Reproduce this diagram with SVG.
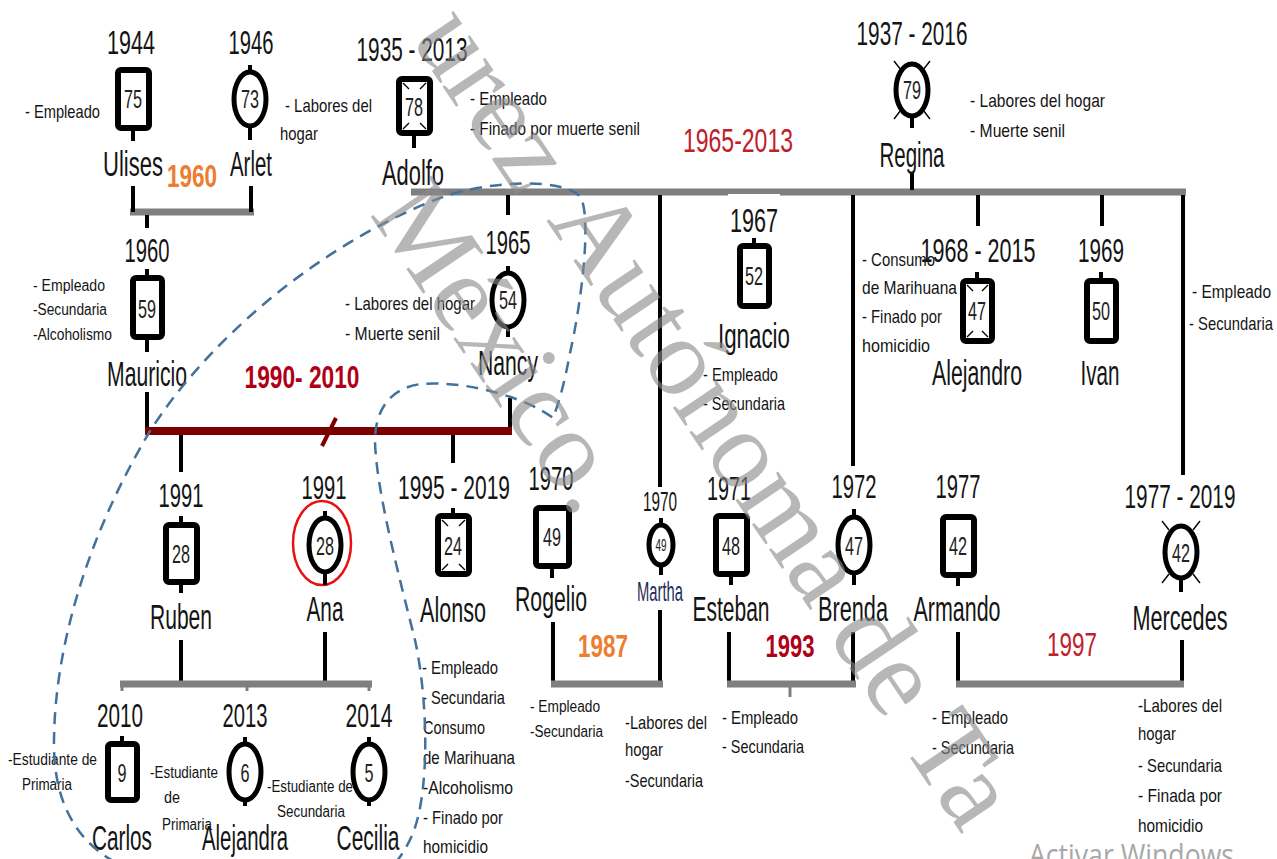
<svg xmlns="http://www.w3.org/2000/svg" width="1277" height="859" viewBox="0 0 1277 859">
<style>
text{font-family:"Liberation Sans Narrow","Liberation Sans",Arial,sans-serif;fill:#141414}
.y{font-size:34px;text-anchor:middle}
.n{font-size:35px;text-anchor:middle}
.a{font-size:25px;text-anchor:middle;fill:#222}
.s{font-size:19px}
.m{font-size:16px}
.or{font-size:31px;font-weight:bold;fill:#ED7D31;text-anchor:middle}
.rd{font-size:33px;fill:#C0202A;text-anchor:middle}
.rb{font-size:32px;font-weight:bold;fill:#B00016;text-anchor:middle}
.sq{fill:#fff;stroke:#000;stroke-width:6}
.ci{fill:#fff;stroke:#000;stroke-width:5}
.ln{stroke:#000;stroke-width:4;fill:none}
.bar{stroke:#7f7f7f;stroke-width:7;fill:none}
.tk{stroke:#7f7f7f;stroke-width:3}
.dm{stroke:#000;stroke-width:1.4}
.hh{fill:none;stroke:#41719C;stroke-width:2.5;stroke-dasharray:12 8}
.wm{font-family:"Liberation Serif",serif;font-size:112px;fill:#8a8a8a;fill-opacity:0.62}
.aw{font-family:"Open Sans","Liberation Sans",sans-serif;font-size:31px;fill:#a8a8a8}
</style>

<g id="connectors">
  <line class="bar" x1="130" y1="212" x2="254" y2="212"/>
  <line class="ln" x1="133" y1="186" x2="133" y2="212"/>
  <line class="ln" x1="251" y1="186" x2="251" y2="212"/>
  <line class="ln" x1="147" y1="215" x2="147" y2="228"/>
  <line class="bar" x1="411" y1="192" x2="1186" y2="192"/>
  <rect x="728" y="194" width="52" height="4" fill="#fff"/>
  <line class="ln" x1="912" y1="172" x2="912" y2="190"/>
  <line class="ln" x1="508" y1="195" x2="508" y2="215"/>
  <line class="ln" x1="660" y1="195" x2="660" y2="487"/>
  <line class="ln" x1="853" y1="195" x2="853" y2="466"/>
  <line class="ln" x1="978" y1="195" x2="978" y2="226"/>
  <line class="ln" x1="1102" y1="195" x2="1102" y2="226"/>
  <line class="ln" x1="1183" y1="195" x2="1183" y2="475"/>
  <line class="ln" x1="147" y1="392" x2="147" y2="431"/>
  <line class="ln" x1="510" y1="398" x2="510" y2="431"/>
  <line x1="145" y1="431" x2="512" y2="431" stroke="#7B0000" stroke-width="8"/>
  <line x1="322" y1="446" x2="336" y2="418" stroke="#7B0000" stroke-width="4"/>
  <line class="ln" x1="181" y1="435" x2="181" y2="472"/>
  <line class="ln" x1="453" y1="435" x2="453" y2="463"/>
  <line class="ln" x1="181" y1="640" x2="181" y2="681"/>
  <line class="ln" x1="325" y1="632" x2="325" y2="681"/>
  <line class="bar" x1="120" y1="684" x2="372" y2="684"/>
  <line class="tk" x1="122" y1="686" x2="122" y2="691"/>
  <line class="tk" x1="247" y1="686" x2="247" y2="691"/>
  <line class="tk" x1="369" y1="686" x2="369" y2="691"/>
  <line class="ln" x1="553" y1="622" x2="553" y2="682"/>
  <line class="ln" x1="660" y1="610" x2="660" y2="682"/>
  <line class="bar" x1="551" y1="684" x2="663" y2="684"/>
  <line class="ln" x1="729" y1="632" x2="729" y2="682"/>
  <line class="ln" x1="853" y1="632" x2="853" y2="682"/>
  <line class="bar" x1="727" y1="684" x2="856" y2="684"/>
  <line class="tk" x1="790" y1="687" x2="790" y2="697"/>
  <line class="ln" x1="958" y1="632" x2="958" y2="682"/>
  <line class="ln" x1="1182" y1="640" x2="1182" y2="682"/>
  <line class="bar" x1="956" y1="684" x2="1184" y2="684"/>
</g>

<g id="labels-union">
  <text class="or" x="192" y="187" textLength="50" lengthAdjust="spacingAndGlyphs">1960</text>
  <text class="rd" x="738" y="152" textLength="110" lengthAdjust="spacingAndGlyphs">1965-2013</text>
  <text class="rb" x="302" y="388" textLength="115" lengthAdjust="spacingAndGlyphs">1990- 2010</text>
  <text class="or" x="603" y="657" textLength="50" lengthAdjust="spacingAndGlyphs">1987</text>
  <text class="rb" x="790" y="657" textLength="49" lengthAdjust="spacingAndGlyphs">1993</text>
  <text class="rd" x="1072" y="656" textLength="50" lengthAdjust="spacingAndGlyphs">1997</text>
</g>

<g id="ulises">
  <text class="y" x="131" y="54" textLength="48" lengthAdjust="spacingAndGlyphs">1944</text>
  <rect class="sq" x="118" y="70" width="31" height="58" rx="3"/>
  <line class="ln" x1="133" y1="131" x2="133" y2="141"/>
  <text class="a" x="133" y="108" textLength="18" lengthAdjust="spacingAndGlyphs">75</text>
  <text class="s" x="25" y="118" textLength="75" lengthAdjust="spacingAndGlyphs">- Empleado</text>
  <text class="n" x="133" y="176" textLength="60" lengthAdjust="spacingAndGlyphs">Ulises</text>
</g>

<g id="arlet">
  <text class="y" x="251" y="54" textLength="45" lengthAdjust="spacingAndGlyphs">1946</text>
  <line class="ln" x1="250" y1="65" x2="250" y2="73"/>
  <ellipse class="ci" cx="250" cy="99" rx="16" ry="27"/>
  <line class="ln" x1="250" y1="126" x2="250" y2="140"/>
  <text class="a" x="250" y="108" textLength="18" lengthAdjust="spacingAndGlyphs">73</text>
  <text class="s" x="285" y="112" textLength="87" lengthAdjust="spacingAndGlyphs">- Labores  del</text>
  <text class="s" x="280" y="140" textLength="38" lengthAdjust="spacingAndGlyphs">hogar</text>
  <text class="n" x="251" y="176" textLength="42" lengthAdjust="spacingAndGlyphs">Arlet</text>
</g>

<g id="adolfo">
  <text class="y" x="412" y="61" textLength="111" lengthAdjust="spacingAndGlyphs">1935 - 2013</text>
  <rect class="sq" x="399" y="79" width="31" height="54" rx="3"/>
  <path class="dm" d="M403 83l6 6M426 83l-6 6M403 129l6-6M426 129l-6-6"/>
  <line class="ln" x1="414" y1="136" x2="414" y2="148"/>
  <text class="a" x="414" y="116" textLength="18" lengthAdjust="spacingAndGlyphs">78</text>
  <text class="s" x="470" y="105" textLength="77" lengthAdjust="spacingAndGlyphs">- Empleado</text>
  <text class="s" x="470" y="135" textLength="170" lengthAdjust="spacingAndGlyphs">- Finado por muerte senil</text>
  <text class="n" x="413" y="185" textLength="62" lengthAdjust="spacingAndGlyphs">Adolfo</text>
</g>

<g id="regina">
  <text class="y" x="912" y="45" textLength="111" lengthAdjust="spacingAndGlyphs">1937 - 2016</text>
  <ellipse class="ci" cx="912" cy="90" rx="16" ry="26"/>
  <path class="dm" d="M894 61l7 9M930 61l-7 9M894 119l7-9M930 119l-7-9"/>
  <line class="ln" x1="912" y1="116" x2="912" y2="128"/>
  <text class="a" x="912" y="99" textLength="18" lengthAdjust="spacingAndGlyphs">79</text>
  <text class="s" x="970" y="107" textLength="135" lengthAdjust="spacingAndGlyphs">- Labores del hogar</text>
  <text class="s" x="970" y="137" textLength="95" lengthAdjust="spacingAndGlyphs">- Muerte senil</text>
  <text class="n" x="912" y="167" textLength="65" lengthAdjust="spacingAndGlyphs">Regina</text>
</g>

<g id="mauricio">
  <text class="y" x="147" y="262" textLength="45" lengthAdjust="spacingAndGlyphs">1960</text>
  <line class="ln" x1="147" y1="269" x2="147" y2="277"/>
  <rect class="sq" x="133" y="278" width="29" height="59" rx="3"/>
  <line class="ln" x1="147" y1="340" x2="147" y2="352"/>
  <text class="a" x="147" y="318" textLength="18" lengthAdjust="spacingAndGlyphs">59</text>
  <text class="m" x="33" y="291" textLength="72" lengthAdjust="spacingAndGlyphs">- Empleado</text>
  <text class="m" x="33" y="315" textLength="74" lengthAdjust="spacingAndGlyphs">-Secundaria</text>
  <text class="m" x="33" y="340" textLength="79" lengthAdjust="spacingAndGlyphs">-Alcoholismo</text>
  <text class="n" x="147" y="386" textLength="80" lengthAdjust="spacingAndGlyphs">Mauricio</text>
</g>

<g id="nancy">
  <text class="y" x="508" y="254" textLength="45" lengthAdjust="spacingAndGlyphs">1965</text>
  <line class="ln" x1="508" y1="266" x2="508" y2="274"/>
  <ellipse class="ci" cx="508" cy="300" rx="16" ry="27"/>
  <line class="ln" x1="508" y1="327" x2="508" y2="337"/>
  <text class="a" x="508" y="309" textLength="18" lengthAdjust="spacingAndGlyphs">54</text>
  <text class="s" x="345" y="310" textLength="130" lengthAdjust="spacingAndGlyphs">- Labores del hogar</text>
  <text class="s" x="345" y="340" textLength="95" lengthAdjust="spacingAndGlyphs">- Muerte senil</text>
  <text class="n" x="508" y="375" textLength="60" lengthAdjust="spacingAndGlyphs">Nancy</text>
</g>

<g id="ignacio">
  <text class="y" x="754" y="232" textLength="48" lengthAdjust="spacingAndGlyphs">1967</text>
  <line class="ln" x1="754" y1="238" x2="754" y2="245"/>
  <rect class="sq" x="740" y="246" width="29" height="60" rx="3"/>
  <text class="a" x="754" y="285" textLength="18" lengthAdjust="spacingAndGlyphs">52</text>
  <text class="n" x="754" y="348" textLength="72" lengthAdjust="spacingAndGlyphs">Ignacio</text>
  <text class="s" x="703" y="381" textLength="75" lengthAdjust="spacingAndGlyphs">- Empleado</text>
  <text class="s" x="703" y="410" textLength="82" lengthAdjust="spacingAndGlyphs">- Secundaria</text>
</g>

<g id="alejandro">
  <text class="y" x="978" y="262" textLength="115" lengthAdjust="spacingAndGlyphs">1968 - 2015</text>
  <line class="ln" x1="977" y1="272" x2="977" y2="280"/>
  <rect class="sq" x="963" y="281" width="29" height="60" rx="3"/>
  <path class="dm" d="M967 285l6 6M988 285l-6 6M967 337l6-6M988 337l-6-6"/>
  <text class="a" x="977" y="320" textLength="18" lengthAdjust="spacingAndGlyphs">47</text>
  <text class="s" x="862" y="266" textLength="73" lengthAdjust="spacingAndGlyphs">- Consumo</text>
  <text class="s" x="862" y="294" textLength="95" lengthAdjust="spacingAndGlyphs">de Marihuana</text>
  <text class="s" x="862" y="323" textLength="80" lengthAdjust="spacingAndGlyphs">- Finado por</text>
  <text class="s" x="862" y="352" textLength="68" lengthAdjust="spacingAndGlyphs">homicidio</text>
  <text class="n" x="977" y="385" textLength="90" lengthAdjust="spacingAndGlyphs">Alejandro</text>
</g>

<g id="ivan">
  <text class="y" x="1101" y="262" textLength="46" lengthAdjust="spacingAndGlyphs">1969</text>
  <line class="ln" x1="1101" y1="272" x2="1101" y2="280"/>
  <rect class="sq" x="1087" y="281" width="29" height="60" rx="3"/>
  <text class="a" x="1101" y="320" textLength="18" lengthAdjust="spacingAndGlyphs">50</text>
  <text class="n" x="1100" y="385" textLength="39" lengthAdjust="spacingAndGlyphs">Ivan</text>
  <text class="s" x="1192" y="298" textLength="79" lengthAdjust="spacingAndGlyphs">- Empleado</text>
  <text class="s" x="1189" y="330" textLength="84" lengthAdjust="spacingAndGlyphs">- Secundaria</text>
</g>

<g id="ruben">
  <text class="y" x="181" y="507" textLength="45" lengthAdjust="spacingAndGlyphs">1991</text>
  <line class="ln" x1="181" y1="516" x2="181" y2="524"/>
  <rect class="sq" x="166" y="525" width="31" height="57" rx="3"/>
  <line class="ln" x1="181" y1="585" x2="181" y2="593"/>
  <text class="a" x="181" y="563" textLength="18" lengthAdjust="spacingAndGlyphs">28</text>
  <text class="n" x="181" y="629" textLength="62" lengthAdjust="spacingAndGlyphs">Ruben</text>
</g>

<g id="ana">
  <text class="y" x="324" y="499" textLength="45" lengthAdjust="spacingAndGlyphs">1991</text>
  <ellipse cx="322" cy="543" rx="29" ry="42" fill="none" stroke="#E81010" stroke-width="2.5"/>
  <line class="ln" x1="325" y1="511" x2="325" y2="519"/>
  <ellipse class="ci" cx="325" cy="545" rx="16" ry="27"/>
  <line class="ln" x1="325" y1="572" x2="325" y2="585"/>
  <text class="a" x="325" y="555" textLength="18" lengthAdjust="spacingAndGlyphs">28</text>
  <text class="n" x="325" y="621" textLength="37" lengthAdjust="spacingAndGlyphs">Ana</text>
</g>

<g id="carlos">
  <text class="y" x="120" y="727" textLength="46" lengthAdjust="spacingAndGlyphs">2010</text>
  <line class="ln" x1="122" y1="736" x2="122" y2="743"/>
  <rect class="sq" x="108" y="744" width="29" height="56" rx="3"/>
  <text class="a" x="122" y="782" textLength="9" lengthAdjust="spacingAndGlyphs">9</text>
  <text class="m" x="8" y="765" textLength="89" lengthAdjust="spacingAndGlyphs">-Estudiante de</text>
  <text class="m" x="22" y="790" textLength="50" lengthAdjust="spacingAndGlyphs">Primaria</text>
  <text class="n" x="122" y="850" textLength="60" lengthAdjust="spacingAndGlyphs">Carlos</text>
</g>

<g id="alejandra">
  <text class="y" x="245" y="727" textLength="45" lengthAdjust="spacingAndGlyphs">2013</text>
  <line class="ln" x1="245" y1="737" x2="245" y2="745"/>
  <ellipse class="ci" cx="245" cy="772" rx="16" ry="28"/>
  <line class="ln" x1="245" y1="800" x2="245" y2="806"/>
  <text class="a" x="245" y="782" textLength="9" lengthAdjust="spacingAndGlyphs">6</text>
  <text class="m" x="150" y="778" textLength="68" lengthAdjust="spacingAndGlyphs">-Estudiante</text>
  <text class="m" x="164" y="803" textLength="16" lengthAdjust="spacingAndGlyphs">de</text>
  <text class="m" x="162" y="830" textLength="50" lengthAdjust="spacingAndGlyphs">Primaria</text>
  <text class="n" x="245" y="850" textLength="86" lengthAdjust="spacingAndGlyphs">Alejandra</text>
</g>

<g id="cecilia">
  <text class="y" x="369" y="727" textLength="47" lengthAdjust="spacingAndGlyphs">2014</text>
  <line class="ln" x1="369" y1="737" x2="369" y2="745"/>
  <ellipse class="ci" cx="369" cy="772" rx="16" ry="28"/>
  <line class="ln" x1="369" y1="800" x2="369" y2="806"/>
  <text class="a" x="369" y="782" textLength="9" lengthAdjust="spacingAndGlyphs">5</text>
  <text class="m" x="267" y="792" textLength="86" lengthAdjust="spacingAndGlyphs">-Estudiante de</text>
  <text class="m" x="277" y="817" textLength="68" lengthAdjust="spacingAndGlyphs">Secundaria</text>
  <text class="n" x="368" y="850" textLength="63" lengthAdjust="spacingAndGlyphs">Cecilia</text>
</g>

<g id="alonso">
  <text class="y" x="454" y="499" textLength="112" lengthAdjust="spacingAndGlyphs">1995 - 2019</text>
  <line class="ln" x1="453" y1="508" x2="453" y2="515"/>
  <rect class="sq" x="438" y="516" width="31" height="58" rx="3"/>
  <path class="dm" d="M442 520l6 6M465 520l-6 6M442 570l6-6M465 570l-6-6"/>
  <text class="a" x="453" y="555" textLength="18" lengthAdjust="spacingAndGlyphs">24</text>
  <text class="n" x="453" y="622" textLength="66" lengthAdjust="spacingAndGlyphs">Alonso</text>
  <text class="s" x="422" y="674" textLength="76" lengthAdjust="spacingAndGlyphs">- Empleado</text>
  <text class="s" x="422" y="704" textLength="83" lengthAdjust="spacingAndGlyphs">- Secundaria</text>
  <text class="s" x="423" y="734" textLength="62" lengthAdjust="spacingAndGlyphs">Consumo</text>
  <text class="s" x="423" y="764" textLength="92" lengthAdjust="spacingAndGlyphs">de Marihuana</text>
  <text class="s" x="423" y="794" textLength="90" lengthAdjust="spacingAndGlyphs">-Alcoholismo</text>
  <text class="s" x="423" y="824" textLength="80" lengthAdjust="spacingAndGlyphs">- Finado por</text>
  <text class="s" x="423" y="853" textLength="65" lengthAdjust="spacingAndGlyphs">homicidio</text>
</g>

<g id="rogelio">
  <text class="y" x="551" y="490" textLength="45" lengthAdjust="spacingAndGlyphs">1970</text>
  <rect class="sq" x="536" y="508" width="33" height="58" rx="3"/>
  <line class="ln" x1="552" y1="569" x2="552" y2="578"/>
  <text class="a" x="552" y="546" textLength="18" lengthAdjust="spacingAndGlyphs">49</text>
  <text class="n" x="551" y="611" textLength="72" lengthAdjust="spacingAndGlyphs">Rogelio</text>
  <text class="m" x="530" y="712" textLength="70" lengthAdjust="spacingAndGlyphs">- Empleado</text>
  <text class="m" x="530" y="737" textLength="73" lengthAdjust="spacingAndGlyphs">-Secundaria</text>
</g>

<g id="martha">
  <text class="y" x="660" y="511" style="font-size:27px" textLength="34" lengthAdjust="spacingAndGlyphs">1970</text>
  <line class="ln" x1="661" y1="518" x2="661" y2="526"/>
  <ellipse class="ci" cx="661" cy="545" rx="12" ry="20"/>
  <line class="ln" x1="661" y1="565" x2="661" y2="575"/>
  <text class="a" x="661" y="551" style="font-size:16px" textLength="11" lengthAdjust="spacingAndGlyphs">49</text>
  <text class="n" x="660" y="601" style="font-size:28px;fill:#1F2D5A" textLength="46" lengthAdjust="spacingAndGlyphs">Martha</text>
  <text class="s" x="625" y="729" textLength="82" lengthAdjust="spacingAndGlyphs">-Labores del</text>
  <text class="s" x="625" y="756" textLength="38" lengthAdjust="spacingAndGlyphs">hogar</text>
  <text class="s" x="625" y="787" textLength="78" lengthAdjust="spacingAndGlyphs">-Secundaria</text>
</g>

<g id="esteban">
  <text class="y" x="729" y="500" textLength="44" lengthAdjust="spacingAndGlyphs">1971</text>
  <rect class="sq" x="716" y="516" width="31" height="58" rx="3"/>
  <line class="ln" x1="731" y1="577" x2="731" y2="585"/>
  <text class="a" x="731" y="555" textLength="18" lengthAdjust="spacingAndGlyphs">48</text>
  <text class="n" x="731" y="621" textLength="77" lengthAdjust="spacingAndGlyphs">Esteban</text>
  <text class="s" x="722" y="724" textLength="76" lengthAdjust="spacingAndGlyphs">- Empleado</text>
  <text class="s" x="722" y="753" textLength="82" lengthAdjust="spacingAndGlyphs">- Secundaria</text>
</g>

<g id="brenda">
  <text class="y" x="854" y="498" textLength="45" lengthAdjust="spacingAndGlyphs">1972</text>
  <line class="ln" x1="854" y1="509" x2="854" y2="518"/>
  <ellipse class="ci" cx="854" cy="545" rx="16" ry="28"/>
  <line class="ln" x1="854" y1="573" x2="854" y2="585"/>
  <text class="a" x="854" y="555" textLength="18" lengthAdjust="spacingAndGlyphs">47</text>
  <text class="n" x="853" y="621" textLength="70" lengthAdjust="spacingAndGlyphs">Brenda</text>
</g>

<g id="armando">
  <text class="y" x="958" y="498" textLength="45" lengthAdjust="spacingAndGlyphs">1977</text>
  <rect class="sq" x="943" y="517" width="31" height="58" rx="3"/>
  <line class="ln" x1="958" y1="578" x2="958" y2="586"/>
  <text class="a" x="958" y="555" textLength="18" lengthAdjust="spacingAndGlyphs">42</text>
  <text class="n" x="957" y="621" textLength="87" lengthAdjust="spacingAndGlyphs">Armando</text>
  <text class="s" x="932" y="724" textLength="76" lengthAdjust="spacingAndGlyphs">- Empleado</text>
  <text class="s" x="932" y="754" textLength="82" lengthAdjust="spacingAndGlyphs">- Secundaria</text>
</g>

<g id="mercedes">
  <text class="y" x="1180" y="508" textLength="111" lengthAdjust="spacingAndGlyphs">1977 - 2019</text>
  <ellipse class="ci" cx="1181" cy="552" rx="16" ry="26"/>
  <path class="dm" d="M1162 521l7 9M1200 521l-7 9M1162 583l7-9M1200 583l-7-9"/>
  <line class="ln" x1="1181" y1="578" x2="1181" y2="592"/>
  <text class="a" x="1181" y="562" textLength="18" lengthAdjust="spacingAndGlyphs">42</text>
  <text class="n" x="1180" y="630" textLength="95" lengthAdjust="spacingAndGlyphs">Mercedes</text>
  <text class="s" x="1138" y="712" textLength="84" lengthAdjust="spacingAndGlyphs">-Labores del</text>
  <text class="s" x="1138" y="740" textLength="38" lengthAdjust="spacingAndGlyphs">hogar</text>
  <text class="s" x="1138" y="772" textLength="84" lengthAdjust="spacingAndGlyphs">- Secundaria</text>
  <text class="s" x="1138" y="802" textLength="84" lengthAdjust="spacingAndGlyphs">- Finada  por</text>
  <text class="s" x="1138" y="832" textLength="65" lengthAdjust="spacingAndGlyphs">homicidio</text>
</g>

<g id="household">
  <path class="hh" d="M115 862C75 840 53 800 54 740C55 650 85 540 150 431C215 330 330 240 440 198C490 180 560 178 580 196C592 215 582 300 570 353C565 380 560 400 553 418C530 400 470 380 421 384C390 388 375 410 375 441C376 490 400 580 415 640C428 700 430 790 413 833C408 845 402 855 396 862"/>
</g>

<g id="watermark">
  <text class="wm" transform="translate(546 220) rotate(55.9)">Autónoma de Ta</text>
  <text class="wm" text-anchor="end" transform="translate(518 198) rotate(55.9)">urez</text>
  <text class="wm" transform="translate(369 214) rotate(55.9)">México.</text>
  <text class="aw" x="1029" y="866" textLength="205" lengthAdjust="spacingAndGlyphs">Activar Windows</text>
</g>
</svg>
